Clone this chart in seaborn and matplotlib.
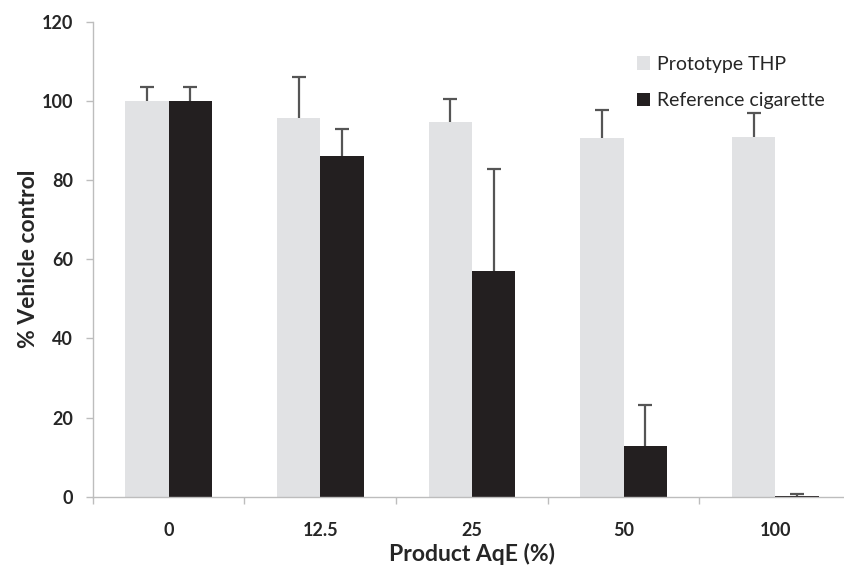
import matplotlib
matplotlib.use("Agg")
import matplotlib.pyplot as plt
from matplotlib.patches import Patch
import seaborn as sns
import pandas as pd
import numpy as np

categories = ["0", "12.5", "25", "50", "100"]
series = ["Prototype THP", "Reference cigarette"]
thp_mean = [100.0, 95.8, 94.6, 90.5, 90.9]
thp_upper = [103.5, 106.0, 100.6, 97.7, 97.0]
ref_mean = [100.0, 86.1, 57.1, 12.9, 0.3]
ref_upper = [103.5, 93.0, 82.9, 23.1, 0.8]
y_ticks = [0, 20, 40, 60, 80, 100, 120]

colors = {"Prototype THP": "#e1e2e4", "Reference cigarette": "#231f20"}

df = pd.DataFrame({
    "Product AqE (%)": categories * 2,
    "value": thp_mean + ref_mean,
    "upper": thp_upper + ref_upper,
    "series": [series[0]] * len(categories) + [series[1]] * len(categories),
})

sns.set_style("white")
plt.rcParams["font.family"] = ["Lato", "DejaVu Sans"]

fig = plt.figure(figsize=(8.44, 5.67), dpi=100)
ax = fig.add_axes([0.1098, 0.124, 0.8987, 0.8377])

sns.barplot(data=df, x="Product AqE (%)", y="value", hue="series",
            order=categories, hue_order=series, palette=colors,
            width=0.571, errorbar=None, ax=ax, legend=False,
            saturation=1, linewidth=0)

# error bars (upper only) at bar centres
for s_i, s in enumerate(series):
    sub = df[df["series"] == s].set_index("Product AqE (%)").loc[categories]
    cont = ax.containers[s_i]
    xs = [p.get_x() + p.get_width() / 2 for p in cont.patches]
    means = sub["value"].values
    ups = sub["upper"].values - means
    eb = ax.errorbar(xs, means, yerr=[np.zeros_like(ups), ups], fmt="none",
                     ecolor="#555555", elinewidth=1.6, capsize=5, capthick=1.6, zorder=3)
    caplines = eb[1]
    if len(caplines) >= 2:
        caplines[0].set_visible(False)

ax.set_xlim(-0.5, len(categories) - 0.5)
ax.set_ylim(0, 120)
ax.set_yticks(y_ticks)
ax.set_yticklabels([str(t) for t in y_ticks])

for sp in ["top", "right"]:
    ax.spines[sp].set_visible(False)
for sp in ["left", "bottom"]:
    ax.spines[sp].set_color("#bdbdbd")
    ax.spines[sp].set_linewidth(1.0)

ax.tick_params(axis="y", which="major", length=5, width=1.0, color="#bdbdbd",
               direction="out", pad=9, labelsize=13, labelcolor="#262626", left=True)
ax.tick_params(axis="x", which="major", length=0, pad=18, labelsize=13, labelcolor="#262626")
ax.set_xticks(np.arange(-0.5, len(categories), 1.0), minor=True)
ax.tick_params(axis="x", which="minor", length=5, width=1.0, color="#bdbdbd",
               direction="out", bottom=True)
for lab in ax.get_xticklabels() + ax.get_yticklabels():
    lab.set_fontweight("bold")

ax.set_xlabel("Product AqE (%)", fontsize=16.5, fontweight="bold", color="#262626", labelpad=3)
ax.set_ylabel("% Vehicle control", fontsize=16.5, fontweight="bold", color="#262626", labelpad=2)

handles = [Patch(facecolor=colors[s], edgecolor="none") for s in series]
leg = fig.legend(handles, series, loc="upper left", bbox_to_anchor=(0.745, 0.915),
                 frameon=False, fontsize=14, handlelength=0.7, handleheight=0.7,
                 handletextpad=0.35, labelspacing=1.0, borderaxespad=0)
for t in leg.get_texts():
    t.set_color("#262626")

fig.savefig("out.png", dpi=100)
